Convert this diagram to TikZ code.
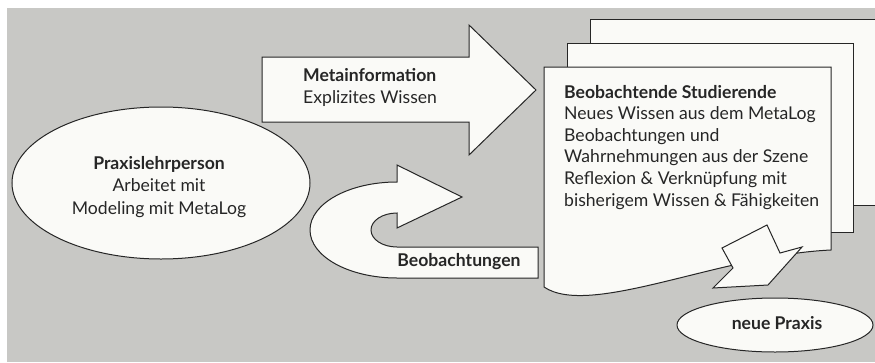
\documentclass[tikz,border=0pt]{standalone}
\usepackage{fontspec}
\setmainfont{Lato}
\usetikzlibrary{shapes.geometric}
\definecolor{bg}{RGB}{200,200,197}
\definecolor{paper}{RGB}{250,250,247}
\definecolor{ink}{RGB}{38,38,38}
\begin{document}
\begin{tikzpicture}[x=1pt,y=-1pt,
  shp/.style={draw=ink,fill=paper,line width=1pt,line join=miter},
  txt/.style={text=ink,inner sep=0pt,font=\fontsize{17.6}{20}\selectfont},
  btxt/.style={txt,font=\fontsize{17.6}{20}\selectfont\bfseries}]
\useasboundingbox (0,0) rectangle (875,362);
\clip (0,0) rectangle (875,362);
\fill[white] (0,0) rectangle (875,362);
\fill[bg] (7,8) rectangle (875,362);
% stacked pages
\draw[shp] (590,19) rectangle (900,205);
\draw[shp] (567,43) rectangle (853,232);
\draw[shp] (544,67) -- (831,67) -- (831,250)
  .. controls (720,255) and (590,318) .. (544,287) -- cycle;
% big arrow
\draw[shp] (262,57) -- (469,57) -- (469,25) -- (536,90) -- (469,155) -- (469,122) -- (262,122) -- cycle;
% curved arrow
\draw[shp] (397,182) -- (397,165) -- (462,197) -- (397,228) -- (397,213)
  .. controls (382.6,213) and (371,220.6) .. (371,230)
  .. controls (371,239.4) and (382.6,247) .. (397,247)
  -- (538,247) -- (538,278) -- (397,278)
  .. controls (349,278) and (310,256.5) .. (310,230)
  .. controls (310,203.5) and (349,182) .. cycle;
% down arrow
\draw[shp] (722,248) -- (767,225) -- (780,253) -- (802,247) -- (768,285) -- (713,288) -- (733,268) -- cycle;
% ellipses
\node[shp,ellipse,minimum width=298pt,minimum height=152pt,inner sep=0pt] (lp) at (161,183) {};
\node[shp,ellipse,minimum width=196pt,minimum height=54pt,inner sep=0pt] (np) at (775,325) {};
% texts
\node[btxt,anchor=base] (lp1) at (159,169) {Praxislehrperson};
\node[txt,anchor=base] (lp2) at (159,191) {Arbeitet mit};
\node[txt,anchor=base] (lp3) at (159,214) {Modeling mit MetaLog};
\node[btxt,anchor=base west] (m1) at (303,81) {Metainformation};
\node[txt,anchor=base west] (m2) at (303,103) {Explizites Wissen};
\node[btxt,anchor=base] (b1) at (459,266) {Beobachtungen};
\node[btxt,anchor=base] (n1) at (777,329) {neue Praxis};
\node[btxt,anchor=base west] (s1) at (564,98) {Beobachtende Studierende};
\node[txt,anchor=base west] (s2) at (564,119.6) {Neues Wissen aus dem MetaLog};
\node[txt,anchor=base west] (s3) at (564,141.2) {Beobachtungen und};
\node[txt,anchor=base west] (s4) at (564,162.8) {Wahrnehmungen aus der Szene};
\node[txt,anchor=base west] (s5) at (564,184.4) {Reflexion \& Verknüpfung mit};
\node[txt,anchor=base west] (s6) at (564,206) {bisherigem Wissen \& Fähigkeiten};
\end{tikzpicture}
\end{document}
